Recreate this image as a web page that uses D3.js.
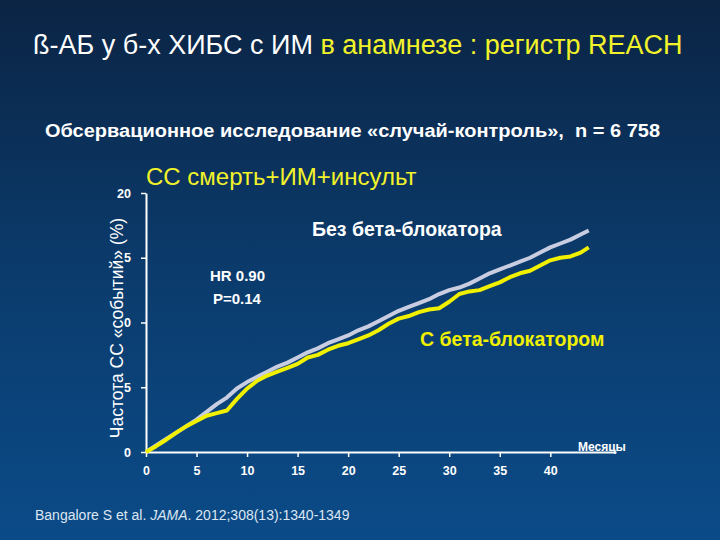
<!DOCTYPE html>
<html>
<head>
<meta charset="utf-8">
<script src="https://cdn.jsdelivr.net/npm/d3@7"></script>
<style>
  body { margin: 0; padding: 0; }
  svg { display: block; }
</style>
</head>
<body>
<div id="chart"></div>
<script>
// months of follow-up
var months = [0,1,2,3,4,5,6,7,8,9,10,11,12,13,14,15,16,17,18,19,20,21,22,23,24,25,26,27,28,29,30,31,32,33,34,35,36,37,38,39,40,41,42,43,43.8];
// cumulative event rate (%), no beta-blocker
var noBB = [0,0.5,1.0,1.5,2.0,2.5,3.1,3.7,4.2,4.9,5.4,5.8,6.2,6.6,6.9,7.3,7.7,8.0,8.4,8.7,9.0,9.4,9.7,10.1,10.5,10.9,11.2,11.5,11.8,12.2,12.5,12.7,13.0,13.4,13.8,14.1,14.4,14.7,15.0,15.4,15.8,16.1,16.4,16.8,17.1];
// cumulative event rate (%), with beta-blocker
var withBB = [0,0.45,0.95,1.5,2.0,2.4,2.8,3.0,3.2,4.1,4.9,5.5,5.9,6.2,6.5,6.8,7.3,7.5,7.9,8.2,8.4,8.7,9.0,9.4,9.9,10.3,10.5,10.8,11.0,11.1,11.6,12.2,12.4,12.5,12.8,13.1,13.5,13.8,14.0,14.4,14.8,15.0,15.1,15.4,15.8];
var xTicks = [0,5,10,15,20,25,30,35,40];
var yTicks = [0,5,10,15,20];
var yTickLabels = ["0","5","0","5","20"];

var width = 720, height = 540;
var svg = d3.select("#chart").append("svg")
    .attr("width", width)
    .attr("height", height)
    .style("font-family", "Arial, 'Liberation Sans', sans-serif");

// background gradient
var grad = svg.append("defs").append("linearGradient")
    .attr("id", "bg").attr("x1", 0).attr("y1", 0).attr("x2", 0).attr("y2", 1);
grad.append("stop").attr("offset", "0%").attr("stop-color", "#0b2444");
grad.append("stop").attr("offset", "50%").attr("stop-color", "#0b3b6c");
grad.append("stop").attr("offset", "100%").attr("stop-color", "#0b4b88");
svg.append("rect").attr("width", width).attr("height", height).attr("fill", "url(#bg)");

// title
var title = svg.append("text")
    .attr("x", 33).attr("y", 54)
    .style("font-size", "27px")
    .style("white-space", "pre");
title.append("tspan").attr("fill", "#ffffff").text("ß-АБ у б-х ХИБС с ИМ ");
title.append("tspan").attr("fill", "#f2f22a").text("в анамнезе : регистр REACH");

svg.append("text")
    .attr("x", 45).attr("y", 137)
    .attr("fill", "#ffffff")
    .attr("textLength", 615)
    .attr("lengthAdjust", "spacingAndGlyphs")
    .style("white-space", "pre")
    .style("font-size", "18px")
    .style("font-weight", "bold")
    .text("Обсервационное исследование «случай-контроль»,  n = 6 758");

var x = d3.scaleLinear().domain([0, 46.5]).range([146, 616]);
var y = d3.scaleLinear().domain([0, 20]).range([452, 193]);

// x axis
var xAxis = svg.append("g")
    .attr("transform", "translate(0,452)")
    .call(d3.axisBottom(x).tickValues(xTicks).tickSize(5).tickPadding(9).tickSizeOuter(0));
xAxis.select(".domain").attr("stroke", "#ffffff").attr("stroke-width", 2);
xAxis.selectAll(".tick line").attr("stroke", "#ffffff").attr("stroke-width", 1.5);
xAxis.selectAll(".tick text")
    .attr("fill", "#ffffff")
    .style("font-size", "12.5px")
    .style("font-weight", "bold")
    .style("font-family", "Arial, 'Liberation Sans', sans-serif");

// y axis
var yAxis = svg.append("g")
    .attr("transform", "translate(146,0)")
    .call(d3.axisLeft(y).tickValues(yTicks)
      .tickFormat(function(d, i) { return yTickLabels[i]; })
      .tickSize(5).tickPadding(10).tickSizeOuter(0));
yAxis.select(".domain").attr("stroke", "#ffffff").attr("stroke-width", 2);
yAxis.selectAll(".tick line").attr("stroke", "#ffffff").attr("stroke-width", 1.5);
yAxis.selectAll(".tick text")
    .attr("fill", "#ffffff")
    .style("font-size", "12.5px")
    .style("font-weight", "bold")
    .style("font-family", "Arial, 'Liberation Sans', sans-serif");

// lines
var line = d3.line()
    .x(function(d) { return x(d[0]); })
    .y(function(d) { return y(d[1]); });

svg.append("path")
    .datum(months.map(function(m, i) { return [m, noBB[i]]; }))
    .attr("d", line)
    .attr("fill", "none")
    .attr("stroke", "#c9cde2")
    .attr("stroke-width", 4)
    .attr("stroke-linejoin", "round");

svg.append("path")
    .datum(months.map(function(m, i) { return [m, withBB[i]]; }))
    .attr("d", line)
    .attr("fill", "none")
    .attr("stroke", "#f0f000")
    .attr("stroke-width", 4)
    .attr("stroke-linejoin", "round");

// labels
svg.append("text")
    .attr("x", 146).attr("y", 185)
    .attr("fill", "#f2f22a")
    .style("font-size", "24px")
    .text("СС смерть+ИМ+инсульт");

svg.append("text")
    .attr("x", 312).attr("y", 236)
    .attr("fill", "#ffffff")
    .style("font-size", "19.5px")
    .style("font-weight", "bold")
    .text("Без бета-блокатора");

svg.append("text")
    .attr("x", 210).attr("y", 281)
    .attr("fill", "#ffffff")
    .style("font-size", "15px")
    .style("font-weight", "bold")
    .text("HR 0.90");

svg.append("text")
    .attr("x", 213).attr("y", 304)
    .attr("fill", "#ffffff")
    .style("font-size", "15px")
    .style("font-weight", "bold")
    .text("P=0.14");

svg.append("text")
    .attr("x", 420).attr("y", 346)
    .attr("fill", "#f0f000")
    .style("font-size", "19.5px")
    .style("font-weight", "bold")
    .text("С бета-блокатором");

svg.append("text")
    .attr("x", 578).attr("y", 451)
    .attr("fill", "#ffffff")
    .style("font-size", "12px")
    .style("font-weight", "bold")
    .text("Месяцы");

svg.append("text")
    .attr("transform", "translate(123,328) rotate(-90)")
    .attr("text-anchor", "middle")
    .attr("fill", "#ffffff")
    .style("font-size", "17.5px")
    .text("Частота СС «событий» (%)");

// source
var src = svg.append("text")
    .attr("x", 35).attr("y", 520)
    .attr("fill", "#dde6f2")
    .style("font-size", "14px");
src.append("tspan").text("Bangalore S et al. ");
src.append("tspan").style("font-style", "italic").text("JAMA");
src.append("tspan").text(". 2012;308(13):1340-1349");
</script>
</body>
</html>
